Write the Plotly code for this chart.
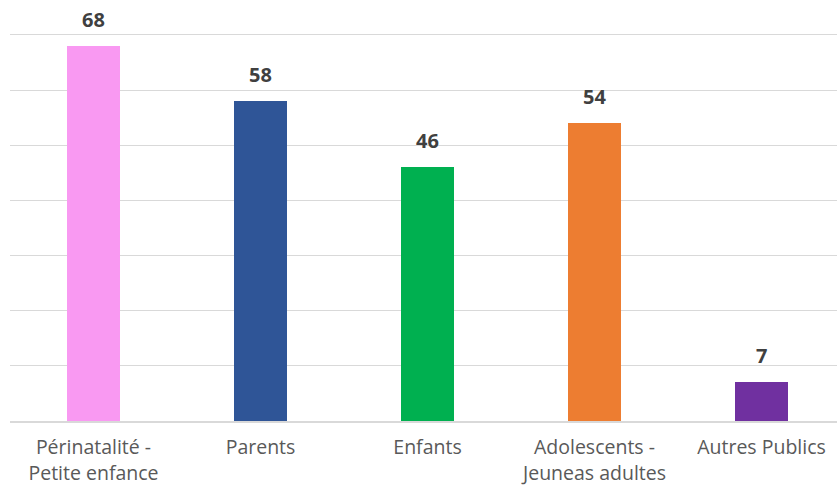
import plotly.graph_objects as go

categories = ["Périnatalité -<br>Petite enfance", "Parents", "Enfants",
              "Adolescents -<br>Jeuneas adultes", "Autres Publics"]
values = [68, 58, 46, 54, 7]
colors = ["#F999F2", "#2F5597", "#00B050", "#ED7D31", "#7030A0"]

x_idx = list(range(len(categories)))

fig = go.Figure()
fig.add_trace(go.Bar(
    x=x_idx, y=values, marker=dict(color=colors, line=dict(width=0)),
    width=0.317, hoverinfo="skip",
))

for xi, v in zip(x_idx, values):
    fig.add_annotation(x=xi, y=v, text=f"<b>{v}</b>", showarrow=False,
                       yanchor="bottom", yshift=11,
                       font=dict(family="Open Sans", size=20, color="#404040"))

fig.update_layout(
    width=837, height=486,
    margin=dict(l=10, r=0, t=30, b=65),
    paper_bgcolor="white", plot_bgcolor="white",
    showlegend=False,
    bargap=0,
)
fig.update_xaxes(
    range=[-0.5, 4.452], tickmode="array", tickvals=x_idx, ticktext=categories,
    showgrid=False, showline=True, linecolor="#D9D9D9", linewidth=1.5,
    ticks="", tickfont=dict(family="Open Sans", size=19.5, color="#595959"),
    ticklabelstandoff=8, automargin=False,
)
fig.update_yaxes(
    range=[0, 70.9], tickmode="array", tickvals=[10, 20, 30, 40, 50, 60, 70],
    showgrid=True, gridcolor="#D9D9D9", gridwidth=1,
    showticklabels=False, zeroline=False, ticks="", automargin=False,
)

fig.write_html("out.html")
